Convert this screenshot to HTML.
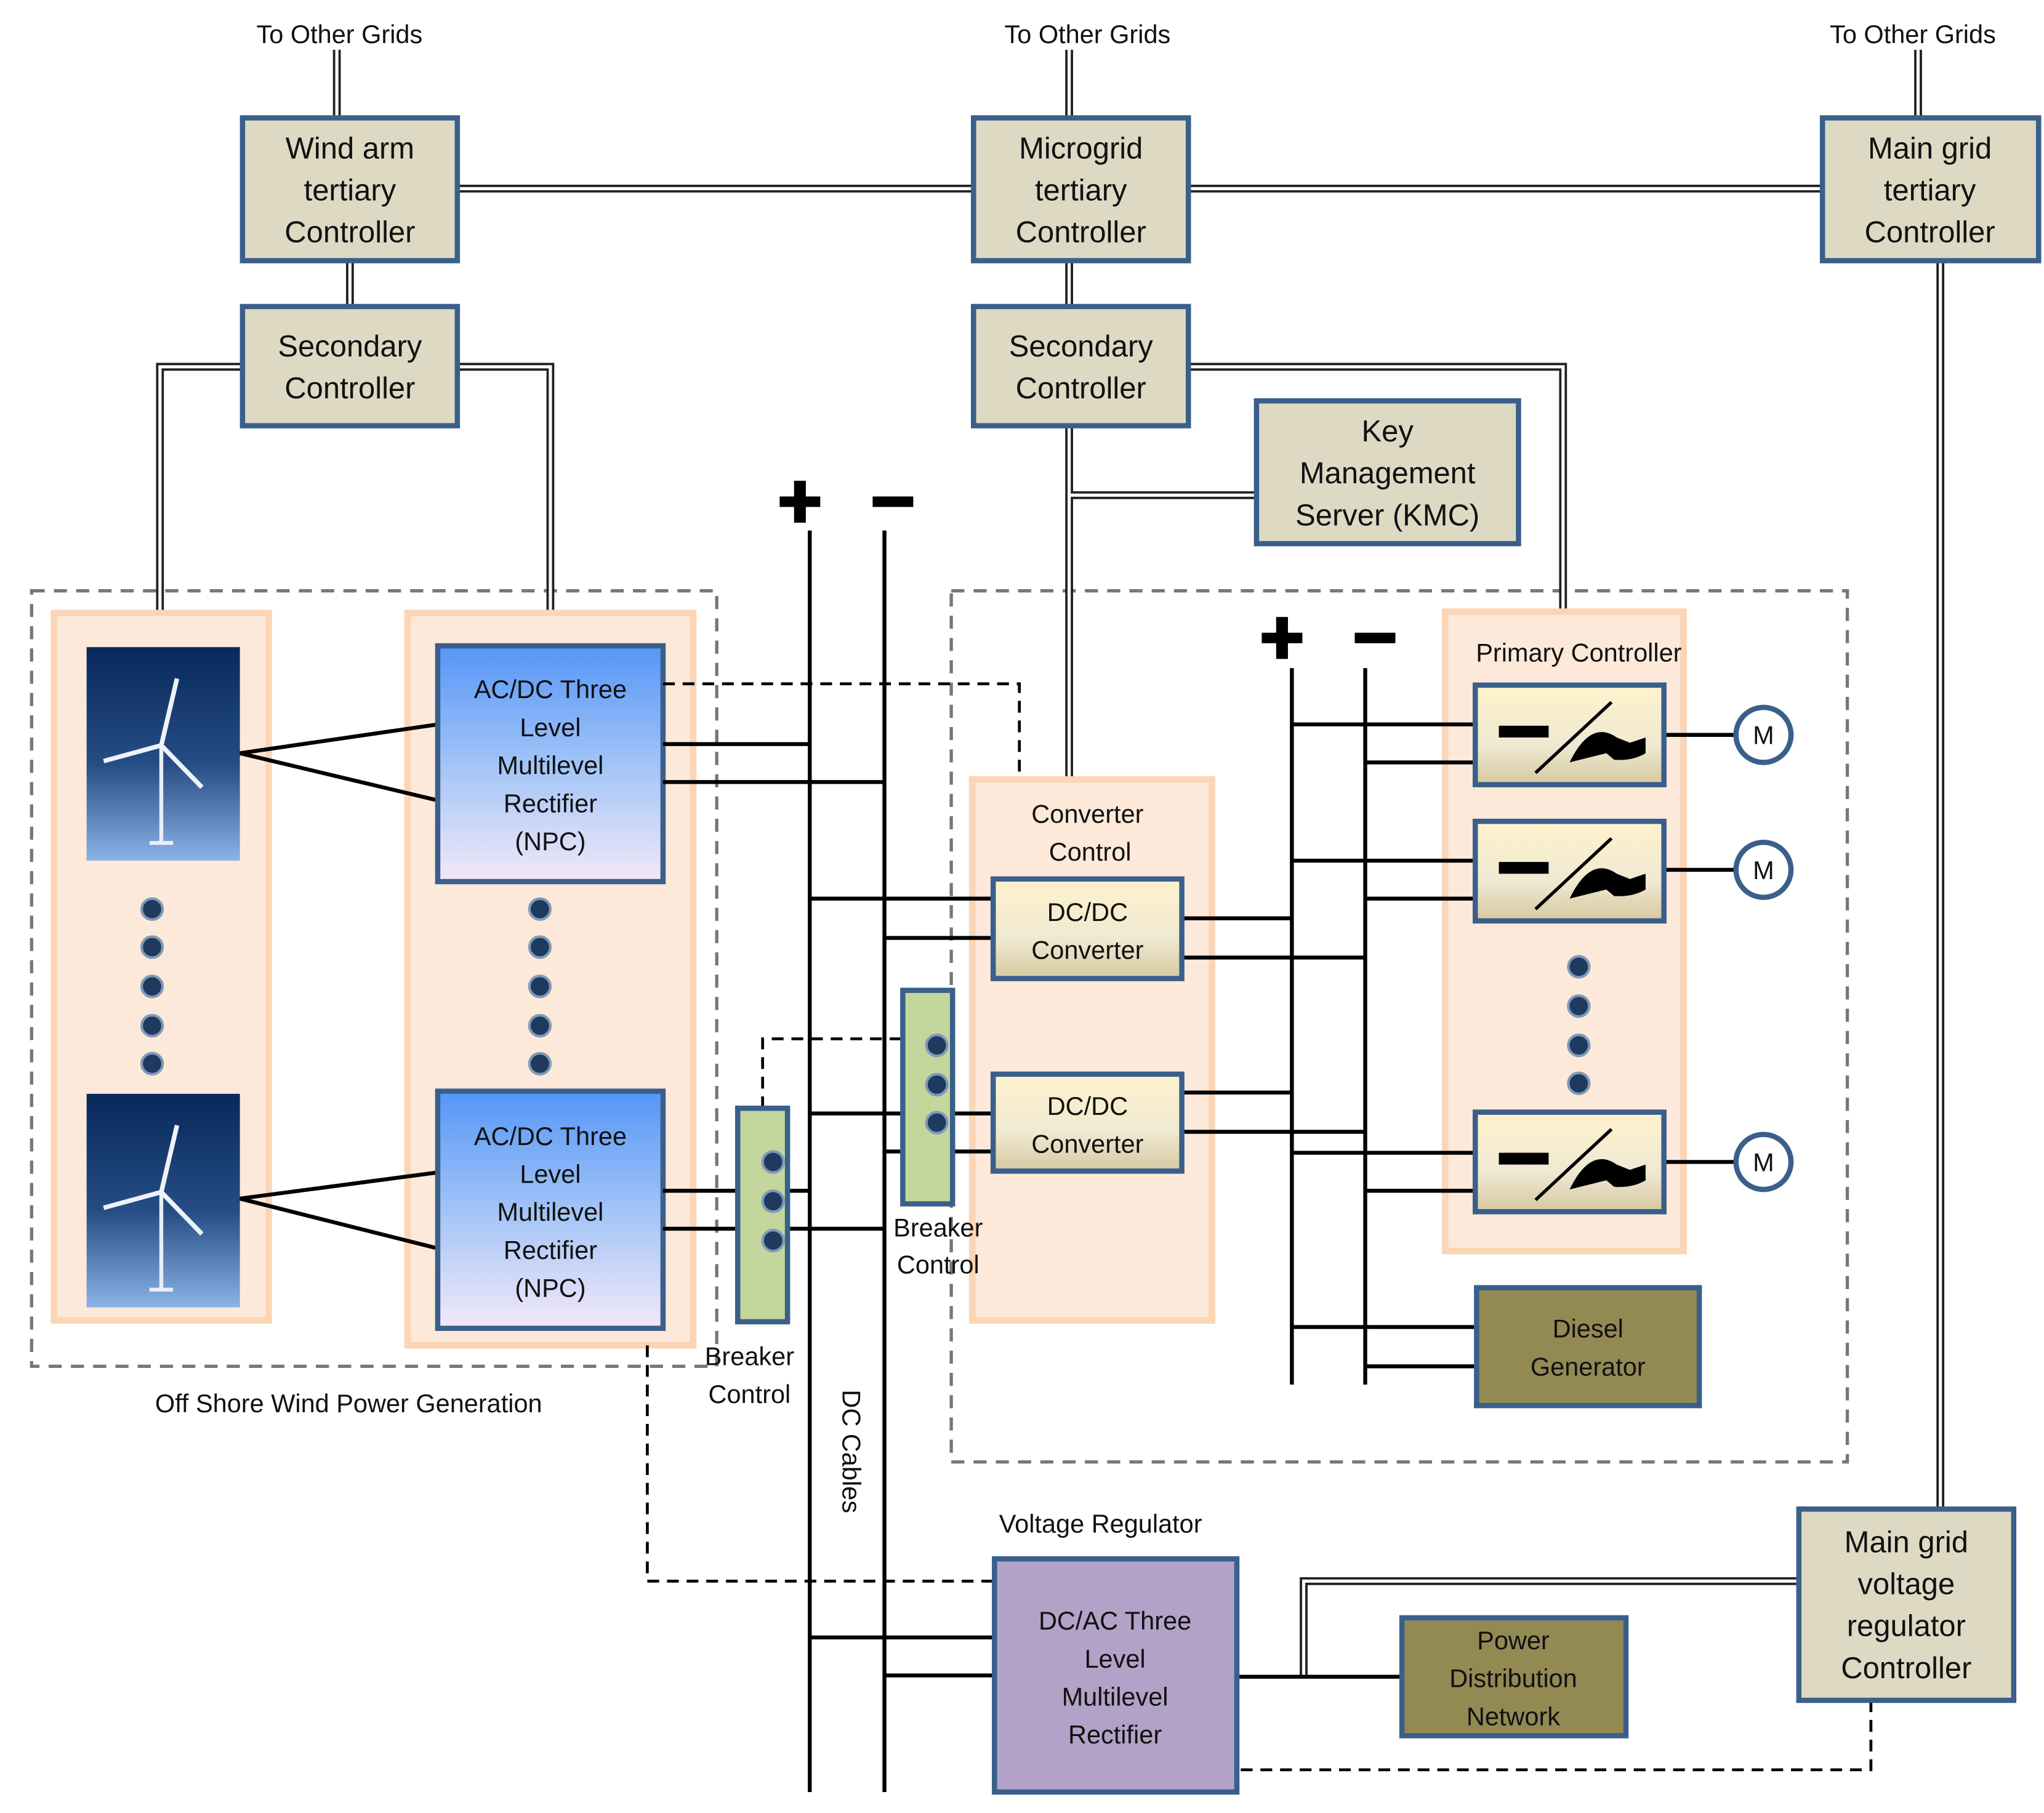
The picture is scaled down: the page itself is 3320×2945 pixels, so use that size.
<!DOCTYPE html>
<html><head><meta charset="utf-8"><style>
html,body{margin:0;padding:0;background:#fff}
svg{display:block}
text{font-family:"Liberation Sans",sans-serif;fill:#111;text-anchor:middle}
.d1{fill:none;stroke:#222;stroke-width:6}
.d2{fill:none;stroke:#fff;stroke-width:2.4}
.ln{stroke:#000;stroke-width:3;fill:none}
.da{stroke:#000;stroke-width:2.2;fill:none;stroke-dasharray:9 6}
.ctl{fill:#ddd9c3;stroke:#3a5f8a;stroke-width:4}
.pan{fill:#fde9d9;stroke:#fbd5b5;stroke-width:5}
.t24{font-size:23px}
.t20{font-size:19.5px}
</style></head><body>
<svg width="3320" height="2945" viewBox="0 0 1560 1384" xmlns="http://www.w3.org/2000/svg">
<defs>
<linearGradient id="gb" x1="0" y1="0" x2="0" y2="1"><stop offset="0" stop-color="#5596f7"/><stop offset="0.55" stop-color="#a9c8f7"/><stop offset="1" stop-color="#f3e8f8"/></linearGradient>
<linearGradient id="gy" x1="0" y1="0" x2="0" y2="1"><stop offset="0" stop-color="#fff2cc"/><stop offset="0.6" stop-color="#f0e9d2"/><stop offset="1" stop-color="#d6c8a0"/></linearGradient>
<linearGradient id="gs" x1="0" y1="0" x2="0" y2="1"><stop offset="0" stop-color="#08295a"/><stop offset="0.55" stop-color="#264d85"/><stop offset="1" stop-color="#8ab3e6"/></linearGradient>
<g id="turb"><rect x="0" y="0" width="117" height="163" fill="url(#gs)"/>
<line x1="57" y1="75" x2="57" y2="150" stroke="#e8eef8" stroke-width="3"/>
<line x1="57" y1="75" x2="69" y2="24" stroke="#eef2fa" stroke-width="3.5"/>
<line x1="57" y1="75" x2="13" y2="87" stroke="#eef2fa" stroke-width="3.5"/>
<line x1="57" y1="75" x2="88" y2="107" stroke="#eef2fa" stroke-width="3.5"/>
<rect x="48" y="148" width="18" height="3" fill="#e8eef8"/></g>
<g id="inv"><rect x="0" y="0" width="144" height="76" fill="url(#gy)" stroke="#3a5f8a" stroke-width="4"/>
<rect x="18" y="31" width="38" height="9" fill="#000"/>
<line x1="46" y1="67" x2="104" y2="13" stroke="#000" stroke-width="2.5"/>
<path d="M72 59 Q88 26 108 40 L118 44 L130 40 L130 52 Q120 58 106 57 L100 52 Z" fill="#000"/></g>
<g id="dot"><circle r="8" fill="#1f3a5f"/><circle r="8" fill="none" stroke="#7f9ab8" stroke-width="2"/></g>
</defs>

<!-- dashed regions -->
<rect x="24" y="451" width="523" height="592" fill="none" stroke="#777" stroke-width="2.5" stroke-dasharray="10 7"/>
<rect x="726" y="451" width="684" height="665" fill="none" stroke="#777" stroke-width="2.5" stroke-dasharray="10 7"/>

<!-- double connectors -->
<g>
<path class="d1" d="M257 38V90M816 38V90M1464 38V90M349 144H743M907 144H1391M267 199V234M816 199V234M185 280H122V468M349 280H420V468M907 280H1193V468M816 325V595M816 378H959M1481 199V1152M995 1280V1207H1373"/>
<path class="d2" d="M257 38V90M816 38V90M1464 38V90M349 144H743M907 144H1391M267 199V234M816 199V234M185 280H122V468M349 280H420V468M907 280H1193V468M816 325V595M816 378H959M1481 199V1152M995 1280V1207H1373"/>
</g>

<!-- top text -->
<text x="259" y="33" class="t20">To Other Grids</text>
<text x="830" y="33" class="t20">To Other Grids</text>
<text x="1460" y="33" class="t20">To Other Grids</text>

<!-- controllers -->
<rect class="ctl" x="185" y="90" width="164" height="109"/>
<text class="t24" x="267" y="121">Wind arm</text><text class="t24" x="267" y="153">tertiary</text><text class="t24" x="267" y="185">Controller</text>
<rect class="ctl" x="743" y="90" width="164" height="109"/>
<text class="t24" x="825" y="121">Microgrid</text><text class="t24" x="825" y="153">tertiary</text><text class="t24" x="825" y="185">Controller</text>
<rect class="ctl" x="1391" y="90" width="165" height="109"/>
<text class="t24" x="1473" y="121">Main grid</text><text class="t24" x="1473" y="153">tertiary</text><text class="t24" x="1473" y="185">Controller</text>
<rect class="ctl" x="185" y="234" width="164" height="91"/>
<text class="t24" x="267" y="272">Secondary</text><text class="t24" x="267" y="304">Controller</text>
<rect class="ctl" x="743" y="234" width="164" height="91"/>
<text class="t24" x="825" y="272">Secondary</text><text class="t24" x="825" y="304">Controller</text>
<rect class="ctl" x="959" y="306" width="200" height="109"/>
<text class="t24" x="1059" y="337">Key</text><text class="t24" x="1059" y="369">Management</text><text class="t24" x="1059" y="401">Server (KMC)</text>

<!-- panels -->
<rect class="pan" x="41" y="468" width="164" height="540"/>
<rect class="pan" x="311" y="468" width="218" height="559"/>
<rect class="pan" x="742" y="595" width="183" height="413"/>
<rect class="pan" x="1103" y="467" width="182" height="488"/>

<use href="#turb" x="66" y="494"/>
<use href="#turb" x="66" y="835"/>
<g class="ln">
<path d="M183 575L334 553M183 575L334 611M183 915L334 895M183 915L334 953"/>
</g>
<use href="#dot" x="116" y="694"/><use href="#dot" x="116" y="723"/><use href="#dot" x="116" y="753"/><use href="#dot" x="116" y="783"/><use href="#dot" x="116" y="812"/>
<use href="#dot" x="412" y="694"/><use href="#dot" x="412" y="723"/><use href="#dot" x="412" y="753"/><use href="#dot" x="412" y="783"/><use href="#dot" x="412" y="812"/>

<rect x="334" y="493" width="172" height="180" fill="url(#gb)" stroke="#3a5f8a" stroke-width="4"/>
<text class="t20" x="420" y="533">AC/DC Three</text><text class="t20" x="420" y="562">Level</text><text class="t20" x="420" y="591">Multilevel</text><text class="t20" x="420" y="620">Rectifier</text><text class="t20" x="420" y="649">(NPC)</text>
<rect x="334" y="833" width="172" height="181" fill="url(#gb)" stroke="#3a5f8a" stroke-width="4"/>
<text class="t20" x="420" y="874">AC/DC Three</text><text class="t20" x="420" y="903">Level</text><text class="t20" x="420" y="932">Multilevel</text><text class="t20" x="420" y="961">Rectifier</text><text class="t20" x="420" y="990">(NPC)</text>

<!-- plus/minus -->
<rect x="595" y="379" width="31" height="8" fill="#000"/><rect x="606" y="367" width="9" height="32" fill="#000"/>
<rect x="666" y="379" width="31" height="8" fill="#000"/>
<rect x="963" y="483" width="31" height="8" fill="#000"/><rect x="974" y="471" width="9" height="32" fill="#000"/>
<rect x="1034" y="483" width="31" height="8" fill="#000"/>

<!-- lines -->
<g class="ln">
<path d="M618 405V1368M675 405V1368"/>
<path d="M506 568H618M506 597H675M506 909H618M506 938H675"/>
<path d="M618 686H758M675 716H758M618 850H758M675 879H758"/>
<path d="M902 701H986M902 731H1042M902 834H986M902 864H1042"/>
<path d="M986 510V1057M1042 510V1057"/>
<path d="M986 553H1126M1042 582H1126M986 657H1126M1042 686H1126M986 880H1126M1042 909H1126"/>
<path d="M1270 561H1325M1270 664H1325M1270 887H1325"/>
<path d="M986 1013H1127M1042 1043H1127"/>
<path d="M618 1250H759M675 1279H759M944 1280H1070"/>
</g>
<g class="da">
<path d="M506 522H778V595M582 846V793H689M494 1027V1207H759M1428 1298V1351H944"/>
</g>

<!-- breakers -->
<rect x="563" y="846" width="38" height="163" fill="#c3d69b" stroke="#3a5f8a" stroke-width="4"/>
<use href="#dot" x="590" y="887"/><use href="#dot" x="590" y="917"/><use href="#dot" x="590" y="947"/>
<rect x="689" y="756" width="38" height="163" fill="#c3d69b" stroke="#3a5f8a" stroke-width="4"/>
<use href="#dot" x="715" y="798"/><use href="#dot" x="715" y="828"/><use href="#dot" x="715" y="857"/>

<text class="t20" x="830" y="628">Converter</text><text class="t20" x="832" y="657">Control</text>
<rect x="758" y="671" width="144" height="76" fill="url(#gy)" stroke="#3a5f8a" stroke-width="4"/>
<text class="t20" x="830" y="703">DC/DC</text><text class="t20" x="830" y="732">Converter</text>
<rect x="758" y="820" width="144" height="74" fill="url(#gy)" stroke="#3a5f8a" stroke-width="4"/>
<text class="t20" x="830" y="851">DC/DC</text><text class="t20" x="830" y="880">Converter</text>

<text class="t20" x="1205" y="505">Primary Controller</text>
<use href="#inv" x="1126" y="523"/><use href="#inv" x="1126" y="627"/><use href="#inv" x="1126" y="849"/>
<g fill="#fff" stroke="#3a5f8a" stroke-width="4"><circle cx="1346" cy="561" r="21"/><circle cx="1346" cy="664" r="21"/><circle cx="1346" cy="887" r="21"/></g>
<text class="t20" x="1346" y="568">M</text><text class="t20" x="1346" y="671">M</text><text class="t20" x="1346" y="894">M</text>
<use href="#dot" x="1205" y="738"/><use href="#dot" x="1205" y="768"/><use href="#dot" x="1205" y="798"/><use href="#dot" x="1205" y="827"/>

<rect x="1127" y="983" width="170" height="90" fill="#938953" stroke="#3a5f8a" stroke-width="4"/>
<text class="t20" x="1212" y="1021">Diesel</text><text class="t20" x="1212" y="1050">Generator</text>

<text class="t20" x="266" y="1078">Off Shore Wind Power Generation</text>
<text class="t20" x="572" y="1042">Breaker</text><text class="t20" x="572" y="1071">Control</text>
<text class="t20" x="716" y="944">Breaker</text><text class="t20" x="716" y="972">Control</text>
<text class="t20" transform="translate(643,1108) rotate(90)">DC Cables</text>
<text class="t20" x="840" y="1170">Voltage Regulator</text>

<rect x="759" y="1190" width="185" height="178" fill="#b3a2c7" stroke="#3a5f8a" stroke-width="4"/>
<text class="t20" x="851" y="1244">DC/AC Three</text><text class="t20" x="851" y="1273">Level</text><text class="t20" x="851" y="1302">Multilevel</text><text class="t20" x="851" y="1331">Rectifier</text>

<rect x="1070" y="1235" width="171" height="90" fill="#938953" stroke="#3a5f8a" stroke-width="4"/>
<text class="t20" x="1155" y="1259">Power</text><text class="t20" x="1155" y="1288">Distribution</text><text class="t20" x="1155" y="1317">Network</text>

<rect class="ctl" x="1373" y="1152" width="164" height="146"/>
<text class="t24" x="1455" y="1185">Main grid</text><text class="t24" x="1455" y="1217">voltage</text><text class="t24" x="1455" y="1249">regulator</text><text class="t24" x="1455" y="1281">Controller</text>
</svg>
</body></html>
